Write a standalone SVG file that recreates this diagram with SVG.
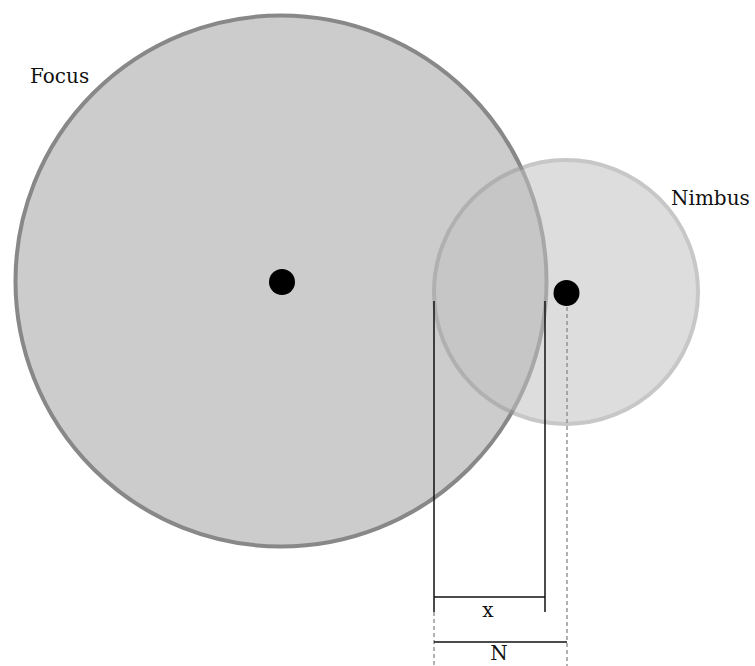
<svg xmlns="http://www.w3.org/2000/svg" width="755" height="666" viewBox="0 0 755 666">
<style>
.lbl{font-family:"DejaVu Serif","Liberation Serif",serif;font-size:20px;fill:#111}
.dot{fill:#000}
.solid{stroke:#111;stroke-width:1.5;fill:none}
.dash{stroke:#888;stroke-width:1.3;stroke-dasharray:4 3;fill:none}
</style>
<rect width="755" height="666" fill="#fff"/>
<g id="focus">
<circle cx="281" cy="281" r="265.5" fill="#cccccc" stroke="#888888" stroke-width="4"/>
<circle class="dot" cx="282" cy="282" r="13"/>
<text class="lbl" x="30" y="83">Focus</text>
</g>
<g id="nimbus">
<circle cx="566" cy="292" r="132" fill="#c2c2c2" stroke="#9a9a9a" stroke-width="4" opacity="0.55"/>
<circle class="dot" cx="566.5" cy="293" r="13"/>
<text class="lbl" x="671" y="205">Nimbus</text>
</g>
<g id="connectors">
<line class="solid" x1="434" y1="301" x2="434" y2="612"/>
<line class="solid" x1="545" y1="301" x2="545" y2="612"/>
<line class="solid" x1="434" y1="597" x2="545" y2="597"/>
<line class="dash" x1="434" y1="612" x2="434" y2="666"/>
<line class="dash" x1="567" y1="307" x2="567" y2="666"/>
<line class="solid" x1="434" y1="642" x2="567" y2="642"/>
</g>
<g id="labels">
<text class="lbl" x="488" y="617" text-anchor="middle">x</text>
<text class="lbl" x="499" y="660" text-anchor="middle">N</text>
</g>
</svg>
